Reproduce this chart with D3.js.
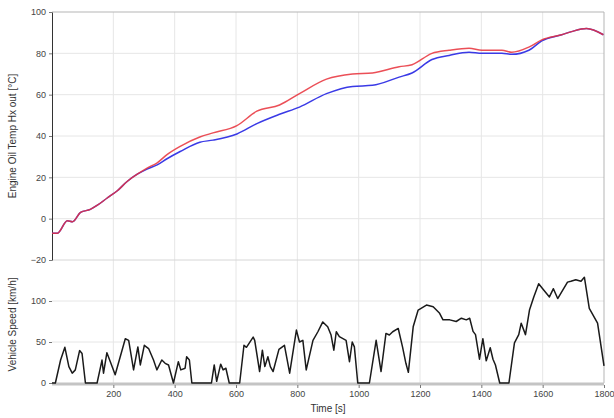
<!DOCTYPE html>
<html>
<head>
<meta charset="utf-8">
<script src="https://cdn.jsdelivr.net/npm/d3@7/dist/d3.min.js"></script>
<style>
  body { margin: 0; background: #fff; }
  svg { display: block; font-family: Arial, "Liberation Sans", sans-serif; }
</style>
</head>
<body>
<svg id="chart" width="614" height="418"></svg>
<script>
// oil temp samples (s)
const tempTime = [0, 18, 50, 67, 93, 125, 148, 180, 213, 245, 278, 310, 343, 375, 418, 482, 525, 603, 668, 742, 807, 895, 980, 1045, 1132, 1174, 1239, 1295, 1360, 1402, 1467, 1499, 1555, 1597, 1662, 1694, 1743, 1798];
const oilTempRed = [-7, -7, -1, -1.5, 3, 4.5, 6.5, 10, 13.5, 18, 21.5, 24.5, 27, 31, 35, 39.5, 41.5, 45, 52, 55, 60.5, 67.5, 70, 70.5, 73.5, 74.5, 80, 81.5, 82.5, 81.5, 81.5, 80.5, 83, 86.5, 89, 90.5, 92, 89];
const oilTempBlue = [-7, -7, -1, -1.5, 3, 4.5, 6.5, 10, 13.5, 18, 21.5, 24, 26, 29, 32.5, 37, 38, 41, 46, 50.5, 54, 60.5, 64, 64.5, 68.5, 70.5, 77, 79, 80.5, 80, 80, 79.5, 81.5, 86, 89, 90.5, 92, 89];

// vehicle speed trace
const speedTime = [0, 11, 28, 42, 55, 66, 76, 90, 98, 109, 147, 158, 163, 168, 179, 188, 196, 206, 239, 250, 266, 280, 288, 301, 315, 331, 342, 358, 369, 380, 396, 412, 420, 434, 439, 448, 456,
  520, 529, 537, 550, 558, 567, 578, 612, 626, 634, 656, 661, 677, 686, 694, 704, 712, 721, 740, 758, 775, 797, 807, 818, 829, 851, 867, 883, 899, 910, 919, 927, 937, 959, 970, 979, 986, 997,
  1035, 1057, 1073, 1089, 1100, 1111, 1129, 1143, 1154, 1162, 1178, 1194, 1221, 1243, 1264, 1275, 1297, 1318, 1335, 1351, 1362, 1373, 1381, 1394, 1405, 1416, 1429, 1438, 1446, 1460,
  1490, 1508, 1522, 1530, 1544, 1557, 1571, 1587, 1600, 1622, 1635, 1649, 1665, 1681, 1692, 1708, 1725, 1736, 1752, 1779, 1800];
const speed = [0, 0, 28, 43.5, 20, 12, 16, 39.5, 36, 0, 0, 19, 28, 12, 37, 28, 20, 10, 54, 52, 16, 44, 22, 46, 42, 28, 16, 28, 24, 22, 0, 26, 16, 18, 32, 28, 0,
  0, 22, 2, 23, 16, 18, 0, 0, 46, 43.5, 56, 52, 14, 40, 20, 32, 20, 14, 41, 46, 12, 64.5, 50, 52, 16, 52, 62.5, 74.5, 68.5, 58.5, 40, 62.5, 56.5, 52, 26, 50, 44, 0,
  0, 52, 14, 60.5, 58.5, 62.5, 66.5, 44, 24, 13, 69, 89, 95, 93, 85, 77, 77, 75, 79, 77, 79, 63, 59, 29, 54, 27, 43, 29, 22, 0,
  0, 49, 59, 73, 59, 89, 105, 121, 115, 105, 115, 103, 113, 123, 124, 126, 124, 129, 91, 73, 21];

const tempTicks = [-20, 0, 20, 40, 60, 80, 100];
const speedTicks = [0, 50, 100];
const timeTicks = [200, 400, 600, 800, 1000, 1200, 1400, 1600, 1800];

const svg = d3.select('#chart');
const left = 52, right = 604;
const topY = 12, midY = 260, botY = 383;

const x = d3.scaleLinear().domain([0, 1800]).range([left, right]);
const yT = d3.scaleLinear().domain([-20, 100]).range([midY, topY]);
const yS = d3.scaleLinear().domain([0, 150]).range([botY, midY]);

const gridColor = '#e6e6e6';

// vertical grid
svg.append('g')
  .selectAll('line')
  .data(timeTicks.slice(0, -1))
  .enter().append('line')
  .attr('x1', d => x(d)).attr('x2', d => x(d))
  .attr('y1', topY).attr('y2', botY)
  .attr('stroke', gridColor);

// horizontal grid
svg.append('g')
  .selectAll('line')
  .data(tempTicks.slice(0, -1))
  .enter().append('line')
  .attr('x1', left).attr('x2', right)
  .attr('y1', d => yT(d)).attr('y2', d => yT(d))
  .attr('stroke', d => d === -20 ? '#d6d6d6' : gridColor);

svg.append('g')
  .selectAll('line')
  .data(speedTicks.slice(1))
  .enter().append('line')
  .attr('x1', left).attr('x2', right)
  .attr('y1', d => yS(d)).attr('y2', d => yS(d))
  .attr('stroke', gridColor);

// frame top/right
svg.append('path')
  .attr('d', `M${left},${topY}H${right}V${botY}`)
  .attr('fill', 'none')
  .attr('stroke', '#b5b5b5');

// zero line of speed
svg.append('line')
  .attr('x1', left).attr('x2', right)
  .attr('y1', yS(0) + 1).attr('y2', yS(0) + 1)
  .attr('stroke', '#c4c4c4')
  .attr('stroke-width', 3);

// axes
function styleAxis(g) {
  g.selectAll('text').attr('fill', '#444').style('font-size', '9px');
  g.selectAll('.tick line').attr('stroke', '#777');
  g.select('.domain').attr('stroke', '#333');
}

svg.append('g')
  .attr('transform', `translate(${left},0)`)
  .call(d3.axisLeft(yT).tickValues(tempTicks).tickSize(3).tickPadding(3).tickSizeOuter(0))
  .call(styleAxis);

svg.append('g')
  .attr('transform', `translate(${left},0)`)
  .call(d3.axisLeft(yS).tickValues(speedTicks).tickSize(3).tickPadding(3).tickSizeOuter(0))
  .call(styleAxis)
  .call(g => g.select('.domain').remove());

svg.append('g')
  .attr('transform', `translate(0,${botY + 2})`)
  .call(d3.axisBottom(x).tickValues(timeTicks).tickFormat(d3.format('d')).tickSize(3).tickPadding(3).tickSizeOuter(0))
  .call(styleAxis)
  .call(g => g.select('.domain').remove());

// axis titles
svg.append('text')
  .attr('transform', `translate(16,${(topY + midY) / 2}) rotate(-90)`)
  .attr('text-anchor', 'middle')
  .style('font-size', '10px')
  .attr('fill', '#333')
  .text('Engine Oil Temp Hx out [°C]');

svg.append('text')
  .attr('transform', `translate(16,${(midY + botY) / 2 + 3}) rotate(-90)`)
  .attr('text-anchor', 'middle')
  .style('font-size', '10px')
  .attr('fill', '#333')
  .text('Vehicle Speed [km/h]');

svg.append('text')
  .attr('x', (left + right) / 2)
  .attr('y', 412)
  .attr('text-anchor', 'middle')
  .style('font-size', '10px')
  .attr('fill', '#333')
  .text('Time [s]');

// temperature lines
const tempLine = vals => d3.line()
  .x((d, i) => x(tempTime[i]))
  .y(d => yT(d))
  .curve(d3.curveMonotoneX)(vals);

svg.append('path')
  .attr('d', tempLine(oilTempBlue))
  .attr('fill', 'none')
  .attr('stroke', '#3a3ae6')
  .attr('stroke-width', 1.5);

svg.append('path')
  .attr('d', tempLine(oilTempRed))
  .attr('fill', 'none')
  .attr('stroke', '#e8303a')
  .attr('stroke-width', 1.5)
  .attr('opacity', 0.85);

// speed line
svg.append('path')
  .datum(speed)
  .attr('d', d3.line()
    .x((d, i) => x(speedTime[i]))
    .y(d => yS(d)))
  .attr('fill', 'none')
  .attr('stroke', '#1a1a1a')
  .attr('stroke-width', 1.5)
  .attr('stroke-linejoin', 'round');
</script>
</body>
</html>
